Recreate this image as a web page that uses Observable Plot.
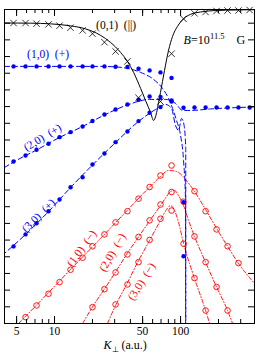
<!DOCTYPE html>
<html><head><meta charset="utf-8">
<script src="https://cdn.jsdelivr.net/npm/d3@7"></script>
<script src="https://cdn.jsdelivr.net/npm/@observablehq/plot@0.6"></script>
<style>body{margin:0;background:#fff} svg{display:block}</style>
</head><body><div id="chart"></div>
<script>
// K_perp grid of the numerical points (a.u.)
const kGrid = [4.73,5.89,7.20,8.96,10.96,13.4,16.7,20.0,24.9,30.5,37.9,46.4,56.8,69.3,84.8,105.6,129,158,193,236,288,353];
// numerical results (y in decades above the bottom of the frame)
const par01 = [18.01,18.01,17.97,17.93,17.85,17.73,17.57,17.37,16.86,16.31,15.71,13.53,null,13.31,16.17,18.26,18.59,18.67,18.73,18.76,18.76,18.79];
const plus10 = [15.41,15.41,15.41,15.41,15.41,15.41,15.41,15.41,15.41,15.39,15.37,15.27,15.17,15.05,14.72,7.27,null,null,null,null,null,null];
const plus20 = [9.71,10.07,10.41,10.77,11.17,11.47,11.81,12.14,12.53,12.83,13.13,13.41,13.61,13.58,13.37,12.93,12.95,12.95,12.95,12.95,12.95,12.95];
const plus30 = [4.62,5.34,6.01,6.73,7.43,8.17,8.77,9.53,10.19,10.87,11.51,12.13,12.63,12.97,13.31,4.03,null,null,null,null,null,null];
const minus10 = [null,0.38,1.08,1.78,2.48,3.22,3.94,4.63,5.34,6.06,6.73,7.48,8.18,8.87,9.47,null,7.93,6.73,5.64,4.63,3.62,null];
const minus20 = [null,null,null,null,null,null,null,0.98,2.06,3.06,4.14,5.19,6.18,7.13,7.88,7.3,5.22,3.68,2.19,0.78,null,null];
const minus30 = [null,null,null,null,null,null,null,null,null,1.14,2.34,3.68,5.01,6.28,6.77,4.78,2.72,0.78,null,null,null,null];

// analytic curves
const par01LineK = [4.01,6.45,9.29,13.4,17.6,23.2,27.8,33.4,37.9,42.4,48.2,52.7,57.8,61.1,64.6,66.9,69.3,74.6,80.3,86.4,94.6,105.6,120,144,190,273,386];
const par01LineV = [18.01,18.0,17.96,17.84,17.66,17.27,16.85,16.25,15.71,15.05,14.09,13.37,12.65,12.17,12.65,13.25,13.85,15.17,16.37,17.21,17.81,18.26,18.53,18.67,18.76,18.79,18.81];
const plus10LineK = [4.01,11.16,23.2,30.5,37.9,48.2,61.1,71.9,80.3,86.4,92.9,100,105.6,109.5,109.7];
const plus10LineV = [15.41,15.41,15.41,15.38,15.29,15.05,14.63,14.09,13.49,12.89,12.17,11.27,9.77,7.37,0];
const plus20LineK = [4.01,4.81,7.20,10.96,16.7,24.9,37.9,56.8,76.0,91.2,103.7,120,173,386];
const plus20LineV = [9.35,9.71,10.40,11.15,11.81,12.50,13.10,13.43,13.43,13.19,12.77,12.77,12.86,12.98];
const plus30LineK = [4.01,5.89,8.96,13.4,20.0,30.5,46.4,63.4,76.0,84.8,91.2,96.4,101.8,106.5,109.9,110.0];
const plus30LineV = [4.20,5.34,6.71,8.15,9.50,10.85,12.11,12.83,13.13,12.89,11.87,11.57,12.29,11.9,10.5,0];
const minus10LineK = [5.18,7.74,13.4,23.2,37.3,56.8,69.3,80.3,92.9,109.6,129,158,193,236,288,386];
const minus10LineV = [0,1.35,3.24,5.10,6.74,8.18,8.81,9.17,9.11,8.63,7.91,6.83,5.70,4.62,3.60,2.40];
const minus20LineK = [16.7,20.0,24.9,30.5,37.3,46.4,56.8,69.3,77.4,83.3,89.6,96.4,105.6,115.7,129,158,193,236,258.6];
const minus20LineV = [0,0.99,2.07,3.09,4.14,5.19,6.15,7.07,7.61,7.91,7.97,7.67,7.07,6.18,5.22,3.66,2.19,0.78,0];
const minus30LineK = [26.3,30.5,37.3,45.6,56.8,69.3,77.4,83.3,89.6,96.4,105.6,129,158,170];
const minus30LineV = [0,1.08,2.34,3.66,4.98,6.18,6.83,7.07,6.77,6.06,4.80,2.70,0.78,0];

// axes
const xMinor = [5,6,7,8,9,10,20,30,40,50,60,70,80,90,100,200,300];
const xMajor = [5,10,50,100];
const xLabels = ["5","10","50","100"];
const yTicks = d3.range(1,19);

// annotations: [text, K, y, rotate]
const notesBlack = [["(0,1)\u2002(||)", 30.8, 17.87, 0]];
const notesBlue = [
  ["(1,0)\u2002(+)", 8.88, 16.13, 0],
  ["(2,0)\u2002(+)", 8.03, 11.15, -31],
  ["(3,0)\u2002(+)", 7.47, 6.47, -45]
];
const notesRed = [
  ["(1,0)\u2002(\u2212)", 16.4, 4.50, -54],
  ["(2,0)\u2002(\u2212)", 28.8, 4.26, -60],
  ["(3,0)\u2002(\u2212)", 49.0, 2.52, -58]
];

const rows = (ks, vs) => ks.map((k, i) => ({k, v: vs[i]})).filter(d => d.v != null);
const W = 256, H = 357, mL = 4, mR = 2, mT = 9, mB = 34;
const iW = W - mL - mR, iH = H - mT - mB;
const BLUE = "#0000ff", RED = "#ff0000";
const dashB = "5,3", dashR = "4,2,1,2";
const SERIF = "Liberation Serif, Times New Roman, serif";
const noteMark = (arr, color) => Plot.text(arr, {x: d => d[1], y: d => d[2], text: d => d[0], rotate: d => d[3], fill: color, fontSize: 11.5, fontFamily: SERIF});

const chart = Plot.plot({
  width: W, height: H,
  marginLeft: mL, marginRight: mR, marginTop: mT, marginBottom: mB,
  style: {fontFamily: SERIF, fontSize: "12px", background: "white", overflow: "visible"},
  x: {type: "log", domain: [4.01, 386], axis: null},
  y: {domain: [0, 18.82], axis: null},
  marks: [
    // theory lines
    Plot.line(rows(minus10LineK, minus10LineV), {x: "k", y: "v", stroke: RED, strokeWidth: 0.9, strokeDasharray: dashR, curve: "monotone-x"}),
    Plot.line(rows(minus20LineK, minus20LineV), {x: "k", y: "v", stroke: RED, strokeWidth: 0.9, strokeDasharray: dashR, curve: "monotone-x"}),
    Plot.line(rows(minus30LineK, minus30LineV), {x: "k", y: "v", stroke: RED, strokeWidth: 0.9, strokeDasharray: dashR, curve: "monotone-x"}),
    Plot.line(rows(plus10LineK, plus10LineV), {x: "k", y: "v", stroke: BLUE, strokeWidth: 1, strokeDasharray: dashB, curve: "monotone-x"}),
    Plot.line(rows(plus20LineK, plus20LineV), {x: "k", y: "v", stroke: BLUE, strokeWidth: 1, strokeDasharray: dashB, curve: "monotone-x"}),
    Plot.line(rows(plus30LineK, plus30LineV), {x: "k", y: "v", stroke: BLUE, strokeWidth: 1, strokeDasharray: dashB, strokeDashoffset: 3, curve: "monotone-x"}),
    Plot.line(rows(par01LineK, par01LineV), {x: "k", y: "v", stroke: "black", strokeWidth: 1, curve: "monotone-x"}),
    // numerical points
    Plot.dot(rows(kGrid, minus10), {x: "k", y: "v", r: 2.8, stroke: RED, fill: "none", strokeWidth: 0.9}),
    Plot.dot(rows(kGrid, minus20), {x: "k", y: "v", r: 2.8, stroke: RED, fill: "none", strokeWidth: 0.9}),
    Plot.dot(rows(kGrid, minus30), {x: "k", y: "v", r: 2.8, stroke: RED, fill: "none", strokeWidth: 0.9}),
    Plot.dot(rows(kGrid, plus10), {x: "k", y: "v", r: 2.2, fill: BLUE}),
    Plot.dot(rows(kGrid, plus20), {x: "k", y: "v", r: 2.2, fill: BLUE}),
    Plot.dot(rows(kGrid, plus30), {x: "k", y: "v", r: 2.2, fill: BLUE}),
    Plot.dot(rows(kGrid, par01), {x: "k", y: "v", r: 3, symbol: "times", stroke: "black", strokeWidth: 0.8}),
    // frame and inward ticks
    Plot.frame({stroke: "black", strokeWidth: 1}),
    Plot.tickX(xMinor, {x: d => d, insetTop: iH - 4, stroke: "black"}),
    Plot.tickX(xMajor, {x: d => d, insetTop: iH - 7, stroke: "black"}),
    Plot.tickX(xMinor, {x: d => d, insetBottom: iH - 4, stroke: "black"}),
    Plot.tickX(xMajor, {x: d => d, insetBottom: iH - 7, stroke: "black"}),
    Plot.tickY(yTicks, {y: d => d, insetRight: iW - 6, stroke: "black"}),
    Plot.tickY(yTicks, {y: d => d, insetLeft: iW - 6, stroke: "black"}),
    // tick labels
    Plot.text(xMajor, {x: d => d, frameAnchor: "bottom", dy: 11, text: (d, i) => xLabels[i], fontSize: 11.5, fontFamily: SERIF, fill: "black"}),
    // x axis title K⊥ (a.u.)
    Plot.text(["K"], {frameAnchor: "bottom", dx: -26, dy: 25, textAnchor: "start", fontStyle: "italic", fontSize: 12, fontFamily: SERIF, fill: "black"}),
    Plot.text(["\u22a5"], {frameAnchor: "bottom", dx: -18, dy: 28, textAnchor: "start", fontSize: 8, fontFamily: SERIF, fill: "black"}),
    Plot.text(["(a.u.)"], {frameAnchor: "bottom", dx: -8, dy: 25, textAnchor: "start", fontSize: 12, fontFamily: SERIF, fill: "black"}),
    // B label
    Plot.text(["B"], {x: () => 105.6, y: () => 16.97, textAnchor: "start", fontStyle: "italic", fontSize: 12, fontFamily: SERIF, fill: "black"}),
    Plot.text(["=10"], {x: () => 105.6, y: () => 16.97, dx: 7.5, textAnchor: "start", fontSize: 12, fontFamily: SERIF, fill: "black"}),
    Plot.text(["11.5"], {x: () => 105.6, y: () => 16.97, dx: 26.5, dy: -4, textAnchor: "start", fontSize: 8.5, fontFamily: SERIF, fill: "black"}),
    Plot.text(["G"], {x: () => 105.6, y: () => 16.97, dx: 53, textAnchor: "start", fontSize: 12, fontFamily: SERIF, fill: "black"}),
    // curve labels
    noteMark(notesBlack, "black"),
    noteMark(notesBlue, BLUE),
    noteMark(notesRed, RED)
  ]
});
document.getElementById("chart").append(chart);
</script></body></html>
